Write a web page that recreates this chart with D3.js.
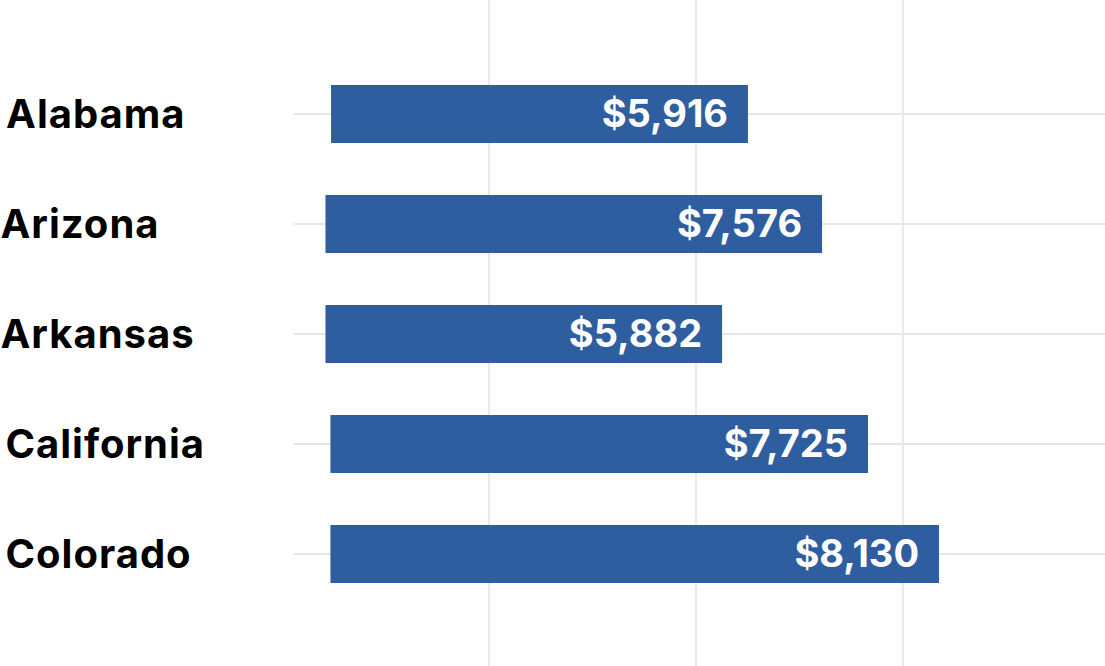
<!DOCTYPE html>
<html>
<head>
<meta charset="utf-8">
<script src="https://cdn.jsdelivr.net/npm/d3@7"></script>
<style>
  html, body { margin: 0; padding: 0; background: #ffffff; }
  svg { display: block; }
</style>
</head>
<body>
<svg id="chart" width="1105" height="666"></svg>
<script>
// ---- data ----
const states = ["Alabama", "Arizona", "Arkansas", "California", "Colorado"];
const spending = [5916, 7576, 5882, 7725, 8130];
// bar extents in gridline units (one unit = one gridline spacing)
const barStart = [0.237, 0.210, 0.210, 0.234, 0.234];
const barEnd = [2.251, 2.609, 2.126, 2.831, 3.174];
const gridTicks = [1, 2, 3];

// ---- layout ----
const W = 1105, H = 666;
const svg = d3.select("#chart");

const x = d3.scaleLinear().domain([0, 4]).range([282, 1110]);
const y = d3.scalePoint().domain(states).range([114, 554]);
const barH = 58;
const fmt = v => "$" + d3.format(",")(v);

const rows = states.map((s, i) => ({
  state: s, value: spending[i], x0: barStart[i], x1: barEnd[i]
}));

// vertical gridlines
svg.append("g").selectAll("line").data(gridTicks).join("line")
  .attr("x1", d => x(d)).attr("x2", d => x(d))
  .attr("y1", 0).attr("y2", H)
  .attr("stroke", "#e3e3e3").attr("stroke-width", 1.5);

// horizontal gridlines
svg.append("g").selectAll("line").data(states).join("line")
  .attr("x1", 294).attr("x2", W)
  .attr("y1", d => y(d)).attr("y2", d => y(d))
  .attr("stroke", "#e6e6e6").attr("stroke-width", 2);

// bars
svg.append("g").selectAll("rect").data(rows).join("rect")
  .attr("x", d => x(d.x0))
  .attr("y", d => y(d.state) - barH / 2)
  .attr("width", d => x(d.x1) - x(d.x0))
  .attr("height", barH)
  .attr("fill", "#2E5DA0");

// value labels
svg.append("g").selectAll("text").data(rows).join("text")
  .attr("x", d => x(d.x1) - 20)
  .attr("y", d => y(d.state))
  .attr("dy", "0.35em")
  .attr("text-anchor", "end")
  .attr("fill", "#ffffff")
  .style("font-family", "Inter, 'Open Sans', sans-serif")
  .style("font-weight", 700)
  .style("font-size", "38px")
  .text(d => fmt(d.value));

// state labels
svg.append("g").selectAll("text").data(rows).join("text")
  .attr("x", d => x(d.x0) - 325)
  .attr("y", d => y(d.state))
  .attr("dy", "0.35em")
  .attr("fill", "#000000")
  .style("font-family", "Inter, 'Open Sans', sans-serif")
  .style("font-weight", 700)
  .style("font-size", "40px")
  .style("letter-spacing", "1px")
  .text(d => d.state);
</script>
</body>
</html>
